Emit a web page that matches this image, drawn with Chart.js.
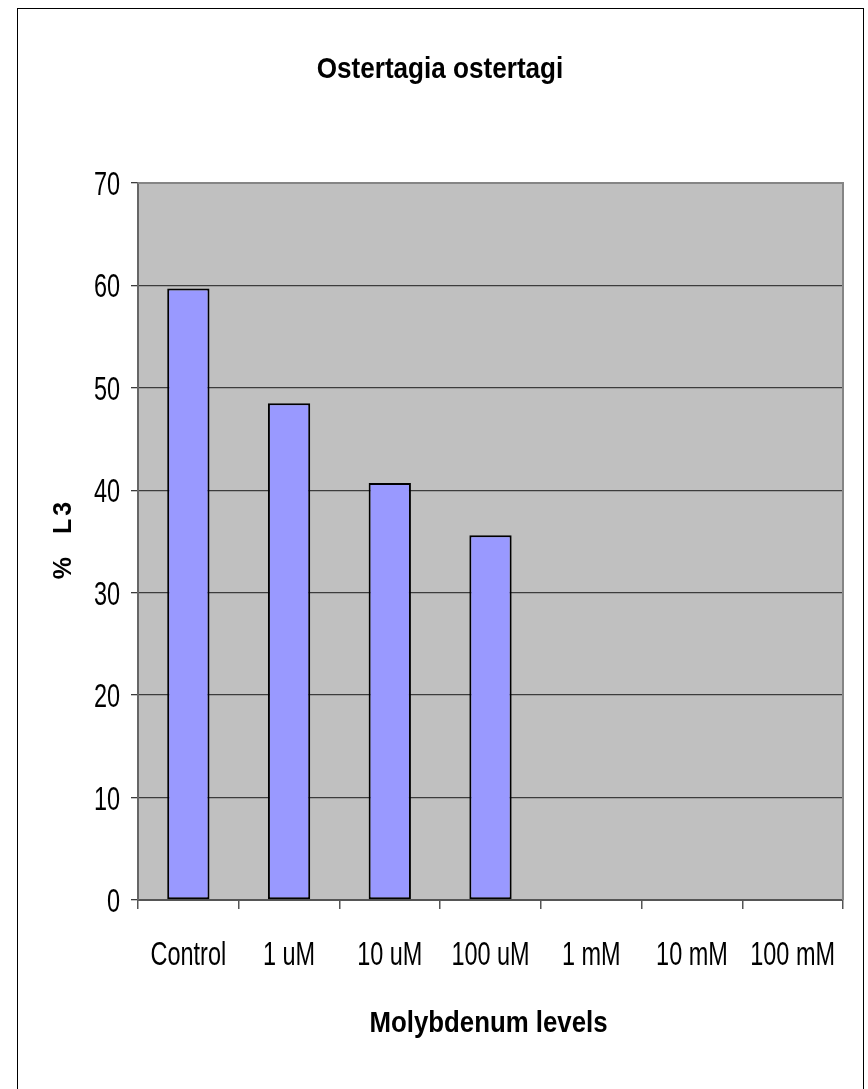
<!DOCTYPE html>
<html>
<head>
<meta charset="utf-8">
<title>Ostertagia ostertagi</title>
<script src="https://cdn.jsdelivr.net/npm/chart.js@4/dist/chart.umd.min.js"></script>
<style>
  html, body { margin: 0; padding: 0; background: #ffffff; }
  #wrap { width: 868px; height: 1089px; position: relative; }
</style>
</head>
<body>
<div id="wrap"><canvas id="chart" width="868" height="1089"></canvas></div>
<script>
// Percentage of L3 larvae at each molybdenum level
const categories = ['Control', '1 uM', '10 uM', '100 uM', '1 mM', '10 mM', '100 mM'];
const percentL3 = [59.7, 48.5, 40.7, 35.6, 0, 0, 0];
const yTicks = [0, 10, 20, 30, 40, 50, 60, 70];

const chartTitle = 'Ostertagia ostertagi';
const xTitle = 'Molybdenum levels';
const yTitle = '%  L3';

const SANS = "'Liberation Sans', Arial, sans-serif";

// Draws text squeezed horizontally, giving the narrow lettering of the chart
function squeezed(ctx, text, x, y, sx, align) {
  ctx.save();
  ctx.translate(x, y);
  ctx.scale(sx, 1);
  ctx.textAlign = align;
  ctx.textBaseline = 'alphabetic';
  ctx.fillText(text, 0, 0);
  ctx.restore();
}

const decorations = {
  id: 'decorations',
  beforeDraw(chart) {
    const { ctx, chartArea: a } = chart;
    ctx.save();
    ctx.fillStyle = '#ffffff';
    ctx.fillRect(0, 0, chart.width, chart.height);
    // outer frame
    ctx.strokeStyle = '#000000';
    ctx.lineWidth = 1;
    ctx.strokeRect(17.5, 8.5, 846, 1100);
    // plot background
    ctx.fillStyle = '#c0c0c0';
    ctx.fillRect(a.left, a.top, a.right - a.left, a.bottom - a.top);
    ctx.restore();
  },
  beforeDatasetsDraw(chart) {
    const { ctx, chartArea: a } = chart;
    ctx.save();
    ctx.strokeStyle = '#858585';
    ctx.lineWidth = 2;
    ctx.beginPath();
    ctx.moveTo(a.left, a.top);
    ctx.lineTo(a.right, a.top);
    ctx.lineTo(a.right, a.bottom);
    ctx.stroke();
    ctx.restore();
  },
  afterDraw(chart) {
    const { ctx } = chart;
    const xs = chart.scales.x, ys = chart.scales.y;
    ctx.save();
    ctx.fillStyle = '#000000';

    // y tick labels
    ctx.font = '34px ' + SANS;
    yTicks.forEach(v => {
      squeezed(ctx, String(v), 120, ys.getPixelForValue(v) + 12, 0.69, 'right');
    });

    // category labels
    categories.forEach((c, i) => {
      squeezed(ctx, c, xs.getPixelForValue(i), 965, 0.69, 'center');
    });

    // chart title
    ctx.font = 'bold 30px ' + SANS;
    squeezed(ctx, chartTitle, 440, 78, 0.87, 'center');

    // x axis title
    squeezed(ctx, xTitle, (chart.chartArea.left + chart.chartArea.right) / 2 - 2, 1032, 0.86, 'center');

    // y axis title
    ctx.save();
    ctx.translate(71, 539);
    ctx.rotate(-Math.PI / 2);
    ctx.font = 'bold 25px ' + SANS;
    ctx.textAlign = 'center';
    ctx.textBaseline = 'alphabetic';
    if ('letterSpacing' in ctx) ctx.letterSpacing = '3px';
    ctx.fillText(yTitle, 0, 0);
    ctx.restore();

    ctx.restore();
  }
};

new Chart(document.getElementById('chart'), {
  type: 'bar',
  data: {
    labels: categories,
    datasets: [{
      label: '% L3',
      data: percentL3,
      backgroundColor: '#9999ff',
      borderColor: '#000000',
      borderWidth: 2,
      borderSkipped: false,
      barPercentage: 0.42,
      categoryPercentage: 1.0
    }]
  },
  options: {
    responsive: false,
    animation: false,
    devicePixelRatio: 1,
    layout: { padding: { left: 98, top: 183, right: 25, bottom: 149 } },
    plugins: {
      legend: { display: false },
      title: { display: false },
      tooltip: { enabled: false }
    },
    scales: {
      x: {
        afterFit(scale) { scale.height = 40; },
        grid: {
          offset: true,
          drawOnChartArea: false,
          drawTicks: true,
          tickLength: 9,
          color: '#555555',
          lineWidth: 1.5
        },
        border: { display: true, color: '#555555', width: 2 },
        ticks: { display: false }
      },
      y: {
        min: 0,
        max: 70,
        afterFit(scale) { scale.width = 40; },
        afterBuildTicks(scale) { scale.ticks = yTicks.map(v => ({ value: v })); },
        grid: {
          drawOnChartArea: true,
          drawTicks: true,
          tickLength: 7,
          color: '#3c3c3c',
          lineWidth: 1.3
        },
        border: { display: true, color: '#666666', width: 2 },
        ticks: { display: false, stepSize: 10 }
      }
    }
  },
  plugins: [decorations]
});
</script>
</body>
</html>
